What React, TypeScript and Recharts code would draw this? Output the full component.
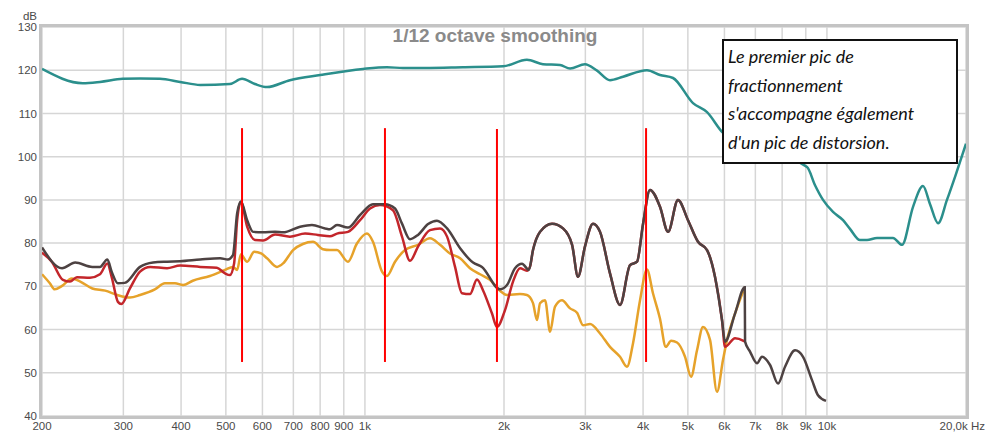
import React from 'react';
import { LineChart, Line, XAxis, YAxis, CartesianGrid, ReferenceLine } from 'recharts';

// [frequency Hz, level dB]
const teal: [number, number][] = [
  [200, 120.3], [245, 117.0], [267, 117.3], [299, 118.0], [326, 118.1], [360, 118.0],
  [398, 117.3], [440, 116.6], [510, 116.8], [542, 118.0], [578, 116.8], [614, 116.1],
  [688, 117.7], [800, 118.9], [990, 120.3], [1116, 120.7], [1209, 120.5], [1630, 120.7],
  [1990, 120.9], [2242, 122.4], [2428, 121.4], [2644, 121.2], [2780, 120.4], [2994, 121.4],
  [3180, 119.9], [3392, 117.7], [3620, 118.5], [4078, 120.0], [4352, 118.9], [4644, 118.2],
  [5130, 112.4], [5502, 110.3], [5958, 105.5], [7164, 101.5], [9056, 97.6], [9424, 93.4],
  [9808, 90.0], [10308, 87.2], [10836, 85.3], [11218, 83.3], [11794, 80.7], [12212, 80.7],
  [12836, 81.2], [13900, 81.2], [14540, 79.6], [15360, 88.4], [16140, 93.2], [16720, 89.0],
  [17400, 84.6], [18190, 90.0], [19000, 95.8], [20000, 103.0],
];

const grey: [number, number][] = [
  [200, 79.0], [221, 74.2], [236, 75.5], [257, 74.5], [267, 74.5], [277, 76.2], [283, 73.4],
  [292, 70.7], [302, 70.8], [326, 74.5], [348, 75.5], [373, 75.7], [398, 75.8], [440, 76.2],
  [486, 76.5], [505, 76.2], [518, 77.2], [529, 86.9], [539, 89.6], [556, 85.3], [573, 82.6],
  [602, 82.5], [639, 82.6], [665, 82.5], [724, 83.8], [768, 84.2], [820, 83.4], [840, 83.2],
  [870, 84.2], [919, 83.6], [976, 86.5], [1041, 89.0], [1105, 89.0], [1162, 88.0], [1203, 84.5],
  [1252, 80.9], [1303, 81.9], [1370, 84.4], [1432, 85.2], [1506, 83.4], [1607, 78.8],
  [1714, 75.5], [1792, 74.5], [1960, 69.3], [2030, 70.3], [2113, 74.2], [2188, 75.2],
  [2265, 73.8], [2311, 78.4], [2393, 82.6], [2541, 84.5], [2684, 83.4], [2808, 79.6],
  [2892, 72.2], [2994, 79.2], [3116, 84.5], [3228, 82.6], [3392, 73.0], [3566, 65.7],
  [3748, 74.9], [3882, 75.7], [4000, 84.5], [4140, 92.3], [4352, 88.4], [4530, 82.6],
  [4760, 90.0], [5004, 85.3], [5260, 80.3], [5502, 78.4], [5724, 72.2], [5928, 62.2],
  [6018, 57.2], [6325, 63.7], [6640, 69.8], [6650, 57.2], [6816, 54.9], [7058, 52.2],
  [7236, 53.7], [7532, 51.8], [7838, 47.5], [8116, 51.4], [8532, 55.2], [8878, 53.7],
  [9284, 48.3], [9566, 44.8], [9954, 43.5],
];

const redStart: [number, number][] = [
  [200, 77.8], [210, 75.7], [222, 71.5], [230, 71.1], [238, 72.1], [254, 72.0], [267, 72.8],
  [277, 75.3], [283, 72.2], [292, 66.4], [297, 65.9], [310, 69.5], [326, 73.4], [343, 74.5],
  [373, 74.2], [398, 74.8], [440, 74.5], [478, 74.3], [498, 73.0], [510, 72.6], [521, 75.3],
  [529, 85.3], [539, 89.5], [556, 83.8], [578, 80.7], [602, 80.6], [639, 82.0], [688, 81.5],
  [742, 82.2], [791, 81.9], [840, 81.6], [870, 82.2], [919, 82.6], [976, 85.3], [1026, 88.0],
  [1078, 88.8], [1150, 87.6], [1203, 81.5], [1252, 75.9], [1303, 79.2], [1383, 83.0],
  [1454, 83.4], [1506, 81.5], [1567, 74.5], [1622, 68.4], [1688, 68.2], [1748, 71.6],
  [1801, 69.1], [1884, 63.7], [1931, 60.6], [2010, 64.5], [2092, 71.1], [2166, 74.2],
  [2242, 73.6], [2276, 74.5],
];
const redEnd: [number, number][] = [[6018, 56.0], [6325, 58.0], [6600, 57.4], [6650, 57.2]];

const orange: [number, number][] = [
  [200, 72.8], [208, 70.7], [213, 69.3], [221, 70.1], [232, 71.8], [242, 71.1], [257, 69.5],
  [274, 69.0], [291, 68.0], [310, 67.4], [326, 68.0], [351, 69.3], [369, 70.7], [388, 70.7],
  [404, 70.3], [424, 71.3], [462, 72.4], [498, 73.8], [518, 74.5], [529, 73.8], [539, 77.4],
  [556, 75.7], [576, 78.0], [596, 77.6], [614, 76.5], [645, 74.5], [665, 75.3], [699, 78.4],
  [734, 79.8], [772, 80.3], [811, 78.6], [840, 78.4], [870, 78.4], [919, 75.7], [961, 79.9],
  [1010, 82.2], [1041, 80.3], [1089, 73.4], [1116, 72.4], [1162, 75.7], [1221, 78.4],
  [1303, 79.6], [1383, 81.1], [1454, 79.6], [1528, 77.6], [1607, 76.5], [1688, 74.2],
  [1775, 72.8], [1865, 71.5], [1960, 69.0], [2030, 68.0], [2166, 68.2], [2242, 68.0],
  [2311, 66.1], [2358, 62.2], [2393, 66.1], [2454, 66.8], [2516, 59.5], [2579, 65.3],
  [2670, 66.8], [2780, 64.9], [2878, 63.9], [2966, 61.0], [3071, 61.3], [3228, 59.1],
  [3392, 56.0], [3566, 53.7], [3692, 51.4], [3804, 56.8], [3940, 66.8], [4078, 73.9],
  [4202, 68.4], [4352, 62.5], [4480, 56.0], [4600, 57.4], [4738, 57.0], [4930, 53.7],
  [5080, 49.1], [5234, 55.2], [5392, 60.6], [5584, 57.6], [5782, 45.6], [5958, 53.0],
  [6078, 57.6], [6325, 63.7], [6640, 69.8],
];

// vertical markers: frequency, from dB, to dB
const markers: [number, number, number][] = [
  [542, 52.5, 106.6], [1105, 52.5, 106.6], [1931, 52.5, 106.4], [4060, 52.5, 106.6],
];

const xTicks = [200, 300, 400, 500, 600, 700, 800, 900, 1000, 2000, 3000, 4000, 5000, 6000, 7000, 8000, 9000, 10000, 20000];
const yTicks = [40, 50, 60, 70, 80, 90, 100, 110, 120, 130];

const toPoints = (arr: [number, number][]) => arr.map(([f, db]) => ({ f, db }));

const red = [
  ...redStart,
  ...grey.filter(([f]) => f > 2300 && f < 6000),
  ...redEnd,
];

const fmtX = (v: number) => {
  if (v === 20000) return '20,0k Hz';
  if (v >= 1000) return `${v / 1000}k`;
  return String(v);
};

const font = '"Liberation Sans", Arial, sans-serif';
const tickStyle = { fontSize: 11.5, fill: '#4a4a4a', fontFamily: font };

// last label sits flush against the right edge like REW does
const XTick = (props: any) => {
  const { x, y, payload } = props;
  const last = payload.value === 20000;
  return (
    <text x={last ? x + 19 : x} y={y} dy="0.71em" textAnchor={last ? 'end' : 'middle'} {...tickStyle}>
      {fmtX(payload.value)}
    </text>
  );
};

export default function App() {
  return (
    <div style={{ position: 'absolute', left: 0, top: 0, width: 987, height: 433, background: '#fff' }}>
      <LineChart width={987} height={433} margin={{ top: 27, right: 21, bottom: 0, left: 4 }}>
        <CartesianGrid stroke="#d6d6d6" strokeWidth={1.5} />
        <XAxis
          type="number"
          dataKey="f"
          scale="log"
          domain={[200, 20000]}
          allowDataOverflow
          ticks={xTicks}
          interval={0}
          axisLine={false}
          tickLine={false}
          tickSize={4}
          tickMargin={2}
          height={17}
          tick={<XTick />}
        />
        <YAxis
          type="number"
          domain={[40, 130]}
          ticks={yTicks}
          interval={0}
          axisLine={false}
          tickLine={false}
          tickSize={3}
          tickMargin={2}
          width={38}
          tick={tickStyle}
        />
        <Line data={toPoints(teal)} dataKey="db" type="monotone" stroke="#2b8f8c" strokeWidth={2.5} dot={false} isAnimationActive={false} />
        <Line data={toPoints(orange)} dataKey="db" type="monotone" stroke="#e6a22a" strokeWidth={2.5} dot={false} isAnimationActive={false} />
        <Line data={toPoints(red)} dataKey="db" type="monotone" stroke="#c3262b" strokeWidth={2.5} dot={false} isAnimationActive={false} />
        <Line data={toPoints(grey)} dataKey="db" type="monotone" stroke="#4d4242" strokeWidth={2.5} dot={false} isAnimationActive={false} />
        {markers.map(([f, lo, hi]) => (
          <ReferenceLine key={f} segment={[{ x: f, y: lo }, { x: f, y: hi }]} stroke="#ff0000" strokeWidth={2} />
        ))}
      </LineChart>

      {/* plot frame */}
      <div style={{ position: 'absolute', left: 39, top: 24, width: 930, height: 395, boxSizing: 'border-box', border: '3px solid #c4c4c4', pointerEvents: 'none' }} />

      <div style={{ position: 'absolute', left: 20, top: 10, width: 17, textAlign: 'right', fontSize: 11.5, color: '#4a4a4a', fontFamily: font }}>dB</div>

      <div style={{ position: 'absolute', left: 295, top: 25, width: 400, textAlign: 'center', fontSize: 19, fontWeight: 'bold', color: '#8a8a8a', fontFamily: font }}>
        1/12 octave smoothing
      </div>

      <div style={{
        position: 'absolute', left: 722, top: 39, width: 236, height: 125, boxSizing: 'border-box',
        border: '2px solid #111', background: '#fff', padding: '1px 0 0 4px',
        fontFamily: 'Lato, "Open Sans", sans-serif', fontStyle: 'italic', fontSize: 18, lineHeight: '28.5px', color: '#111',
      }}>
        Le premier pic de<br />
        fractionnement<br />
        s'accompagne également<br />
        d'un pic de distorsion.
      </div>
    </div>
  );
}
